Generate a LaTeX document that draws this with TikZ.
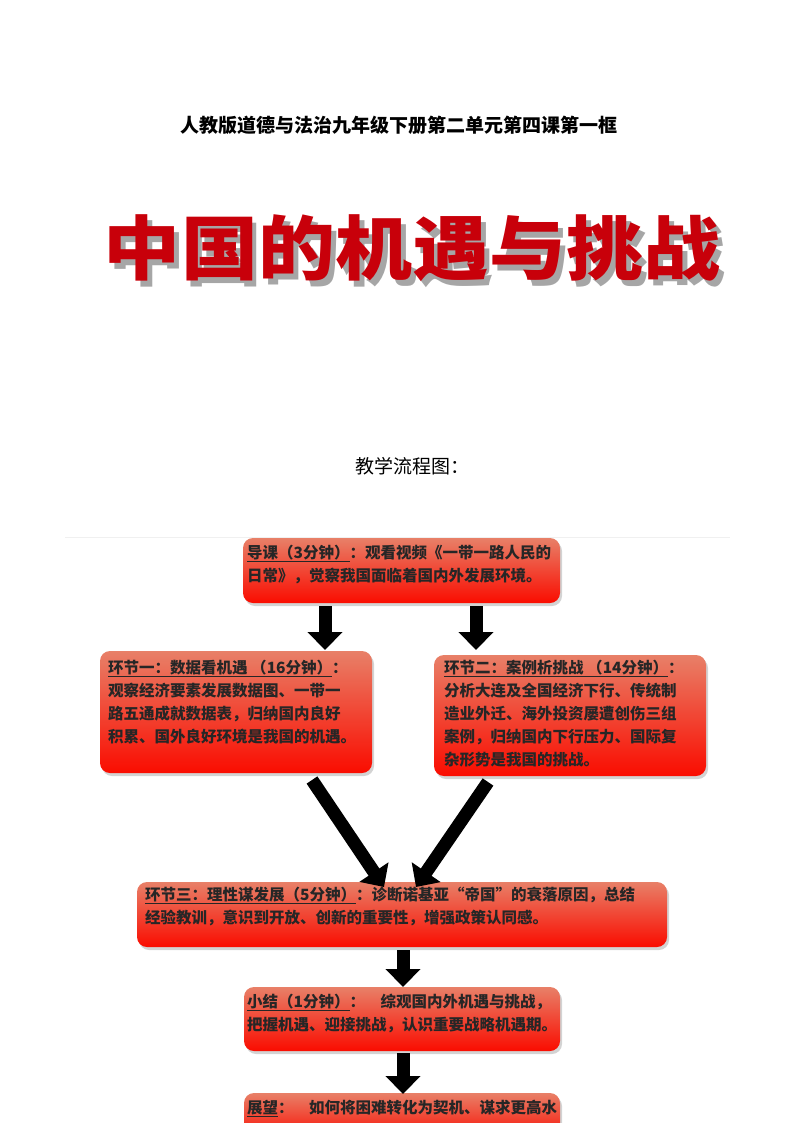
\documentclass[tikz,border=0pt]{standalone}
\usepackage{fontspec}
\newfontfamily\cjk{Noto Sans CJK SC}
\usetikzlibrary{shadows,arrows.meta}
\definecolor{boxtop}{RGB}{232,128,104}
\definecolor{boxbot}{RGB}{250,12,0}
\definecolor{titlered}{RGB}{200,0,10}
\tikzset{
  boxshape/.style={rounded corners=10pt, top color=boxtop, bottom color=boxbot, draw=none,
     drop shadow={shadow xshift=2pt,shadow yshift=-3pt,opacity=0.35}},
  boxtext/.style={anchor=north west, align=left, inner sep=0pt, font=\cjk\bfseries\fontsize{15.5}{23}\selectfont, text=black!85},
  blockarrow/.style={line width=13pt, -{Triangle[length=18pt,width=34pt]}, black}
}
\begin{document}
\begin{tikzpicture}[x=1pt,y=-1pt]
\useasboundingbox (0,0) rectangle (794,1123);
\node[font=\cjk\bfseries\fontsize{19}{20}\selectfont] (sub) at (399,125) {人教版道德与法治九年级下册第二单元第四课第一框};
\node[font=\cjk\bfseries\fontsize{70}{76}\selectfont, text=black!35, xscale=1.1] at (417,254) {中国的机遇与挑战};
\node[font=\cjk\bfseries\fontsize{70}{76}\selectfont, text=titlered, xscale=1.1] (title) at (412,248) {中国的机遇与挑战};
\node[font=\cjk\fontsize{19}{22}\selectfont] (flow) at (412,466) {教学流程图：};
\draw[black!6] (65,537) -- (730,537);
% boxes
\path[boxshape] (243,538) rectangle (560,603);
\node[boxtext] (b0) at (247,545) {\underline{导课（3分钟）}：观看视频《一带一路人民的\\日常》，觉察我国面临着国内外发展环境。};
\path[boxshape] (100,651) rectangle (372,773);
\node[boxtext] (b1) at (108,660) {\underline{环节一：数据看机遇 （16分钟）}：\\观察经济要素发展数据图、一带一\\路五通成就数据表，归纳国内良好\\积累、国外良好环境是我国的机遇。};
\path[boxshape] (434,655) rectangle (706,776);
\node[boxtext] (b2) at (444,660) {\underline{环节二：案例析挑战 （14分钟）}：\\分析大连及全国经济下行、传统制\\造业外迁、海外投资屡遭创伤三组\\案例，归纳国内下行压力、国际复\\杂形势是我国的挑战。};
\path[boxshape] (137,882) rectangle (667,947);
\node[boxtext] (b3) at (145,887) {\underline{环节三：理性谋发展（5分钟）}：诊断诺基亚“帝国”的衰落原因，总结\\经验教训，意识到开放、创新的重要性，增强政策认同感。};
\path[boxshape] (244,987) rectangle (560,1051);
\node[boxtext] (b4) at (247,994) {\underline{小结（1分钟）}：　综观国内外机遇与挑战，\\把握机遇、迎接挑战，认识重要战略机遇期。};
\path[boxshape] (244,1093) rectangle (560,1140);
\node[boxtext] (b5) at (247,1100) {\underline{展望}：　如何将困难转化为契机、谋求更高水};
% arrows
\coordinate (a1s) at (325,606); \coordinate (a1e) at (325,650);
\coordinate (a2s) at (476,606); \coordinate (a2e) at (476,650);
\coordinate (a3s) at (312,780); \coordinate (a3e) at (384,887);
\coordinate (a4s) at (488,782); \coordinate (a4e) at (416,887);
\coordinate (a5s) at (403,950); \coordinate (a5e) at (403,987);
\coordinate (a6s) at (403,1053); \coordinate (a6e) at (403,1094);
\foreach \s/\e in {a1s/a1e,a2s/a2e,a3s/a3e,a4s/a4e,a5s/a5e,a6s/a6e}
  \draw[blockarrow] (\s) -- (\e);
\end{tikzpicture}
\end{document}
